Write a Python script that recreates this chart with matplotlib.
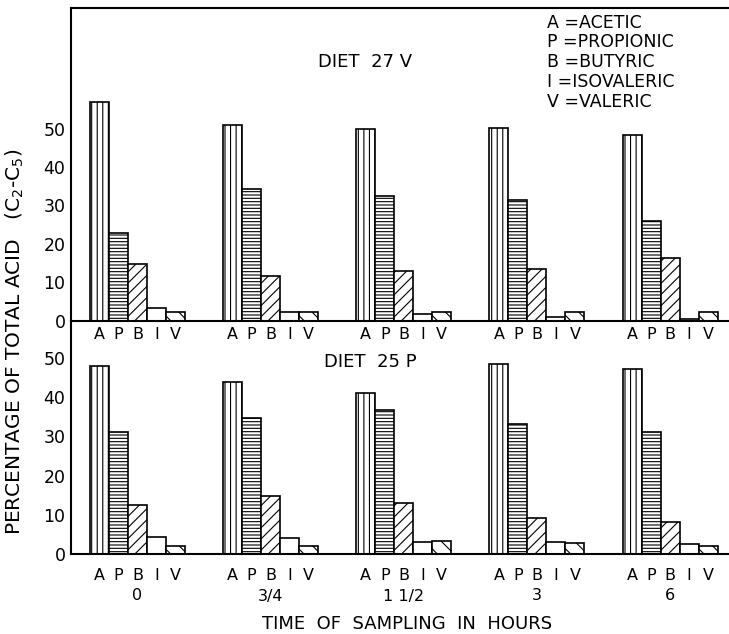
import matplotlib
matplotlib.use("Agg")
import matplotlib.pyplot as plt
import matplotlib.transforms as mtransforms
import numpy as np

# ---- data ----
acids = ['A', 'P', 'B', 'I', 'V']
times = ['0', '3/4', '1 1/2', '3', '6']

# Diet 27 V (top panel), percentage of total acid
v27_acetic = [57.0, 50.8, 49.8, 50.2, 48.2]
v27_propionic = [22.7, 34.2, 32.5, 31.3, 26.0]
v27_butyric = [14.8, 11.5, 12.8, 13.5, 16.4]
v27_isovaleric = [3.2, 2.1, 1.8, 1.0, 0.4]
v27_valeric = [2.2, 2.3, 2.2, 2.2, 2.2]

# Diet 25 P (bottom panel)
p25_acetic = [48.0, 43.8, 41.1, 48.5, 47.2]
p25_propionic = [31.2, 34.8, 36.7, 33.2, 31.2]
p25_butyric = [12.5, 14.9, 12.9, 9.3, 8.2]
p25_isovaleric = [4.3, 4.2, 3.0, 3.1, 2.6]
p25_valeric = [2.1, 2.1, 3.3, 2.7, 2.1]

yticks = [0, 10, 20, 30, 40, 50]

hatches = ['|||', '-----', '///', '', '\\\\']

plt.rcParams['hatch.linewidth'] = 0.8
plt.rcParams['hatch.color'] = 'black'
plt.rcParams['font.family'] = ['DejaVu Sans']

W, H = 729, 634
fig = plt.figure(figsize=(W / 100, H / 100), dpi=100)

def fx(px):
    return px / W

def fy(py):
    return 1 - py / H

left = fx(71)
width = 1 - left
ax_top = fig.add_axes([left, fy(320.5), width, fy(8) - fy(320.5)])
ax_bot = fig.add_axes([left, fy(554), width, fy(320.5) - fy(554)])

gap = 7
n_groups = len(times)
group_base = np.arange(n_groups) * gap

def draw(ax, series, ytop, pad_letters, top_spine):
    for i, vals in enumerate(series):
        ax.bar(group_base + i, vals, width=1.0, color='white',
               edgecolor='black', linewidth=1.2, hatch=hatches[i], zorder=2)
    ax.set_xlim(-1.5, 33.1)
    ax.set_ylim(0, ytop)
    ax.set_yticks(yticks)
    ax.set_yticklabels([str(t) for t in yticks], fontsize=12.5)
    pos = [g + i for g in group_base for i in range(len(acids))]
    ax.set_xticks(pos)
    ax.set_xticklabels(acids * n_groups, fontsize=11.5)
    ax.tick_params(axis='x', length=0, pad=pad_letters)
    ax.tick_params(axis='y', length=0, pad=4)
    ax.spines['right'].set_visible(False)
    ax.spines['top'].set_visible(top_spine)
    for s in ['left', 'bottom', 'top']:
        ax.spines[s].set_linewidth(1.5)
    ax.patch.set_alpha(0)

draw(ax_top, [v27_acetic, v27_propionic, v27_butyric, v27_isovaleric, v27_valeric],
     (320.5 - 8) / 3.84, 5, True)
draw(ax_bot, [p25_acetic, p25_propionic, p25_butyric, p25_isovaleric, p25_valeric],
     (554 - 320.5) / 3.92, 10, False)

# time labels under the bottom panel
trans = mtransforms.blended_transform_factory(ax_bot.transData, fig.transFigure)
for g, t in zip(group_base, times):
    ax_bot.text(g + 2, fy(596), t, transform=trans, ha='center', va='center',
                fontsize=11.5)

fig.text(fx(407), fy(624), 'TIME  OF  SAMPLING  IN  HOURS', ha='center', va='center',
         fontsize=13)
fig.text(fx(15), fy(342), 'PERCENTAGE OF TOTAL ACID   (C$_2$-C$_5$)', rotation=90,
         ha='center', va='center', fontsize=14.5)

fig.text(fx(365), fy(62), 'DIET  27 V', ha='center', va='center', fontsize=13)
fig.text(fx(370), fy(362), 'DIET  25 P', ha='center', va='center', fontsize=13)

legend_lines = ['A =ACETIC', 'P =PROPIONIC', 'B =BUTYRIC', 'I =ISOVALERIC', 'V =VALERIC']
legend_y = [23, 42, 62, 82, 102]
for txt, yy in zip(legend_lines, legend_y):
    fig.text(fx(547), fy(yy), txt, ha='left', va='center', fontsize=12.5)

fig.savefig('out.png', dpi=100, facecolor='white')
